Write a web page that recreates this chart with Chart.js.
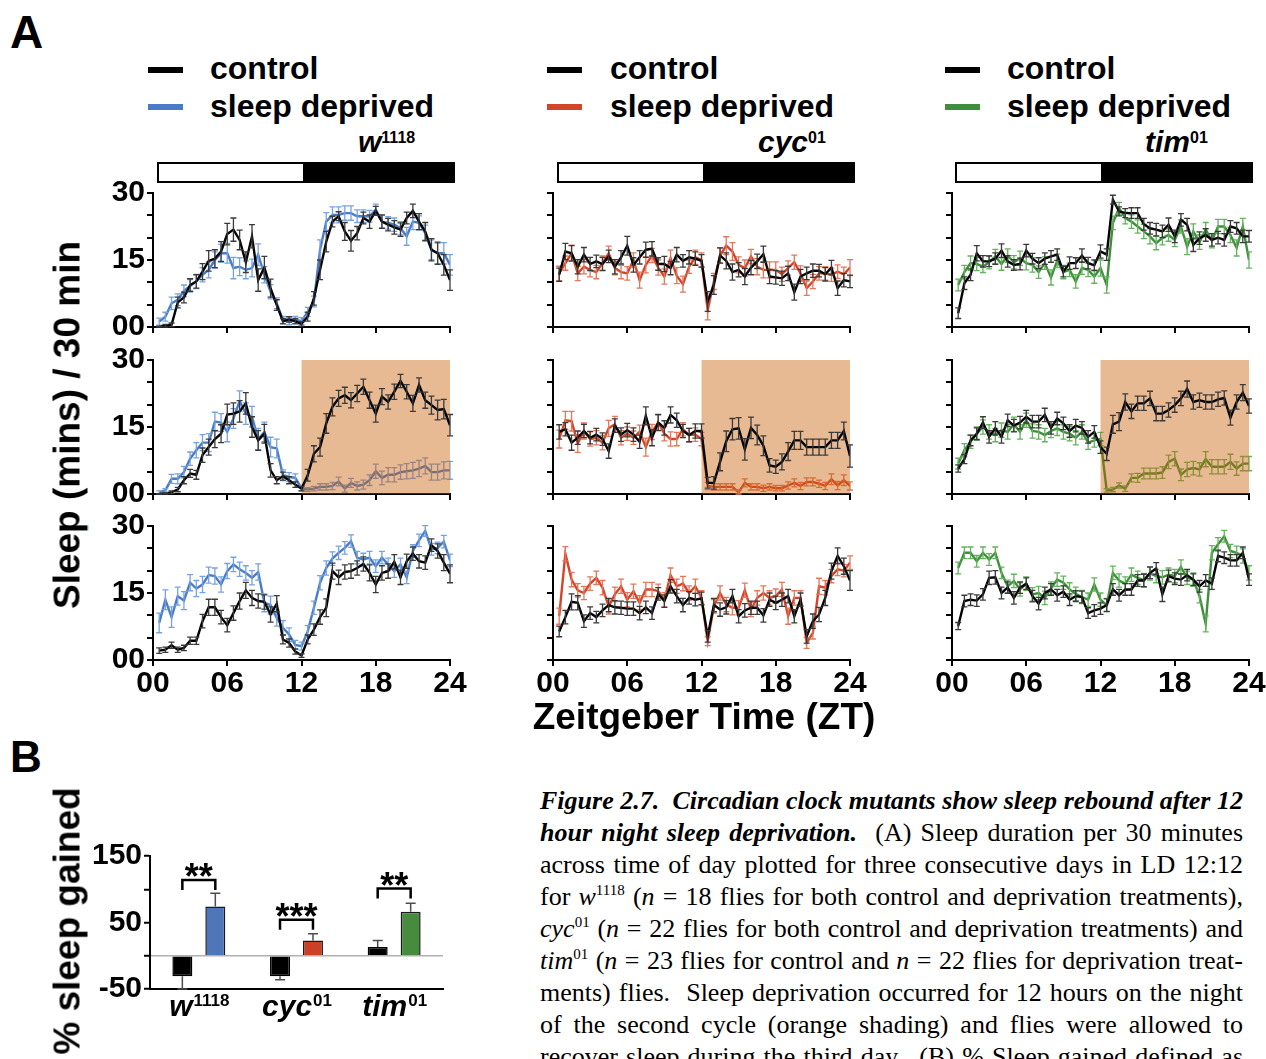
<!DOCTYPE html>
<html>
<head>
<meta charset="utf-8">
<script src="https://cdn.jsdelivr.net/npm/chart.js@4.4.0/dist/chart.umd.min.js"></script>
<style>
  body { margin: 0; background: #fff; }
  #page { position: relative; width: 1266px; height: 1059px; overflow: hidden; font-family: "Liberation Sans", Arial, sans-serif; color: #000; }
  .t { position: absolute; white-space: nowrap; line-height: 1; font-weight: bold; }
  .dash { position: absolute; width: 35px; height: 6px; }
  .ld { position: absolute; top: 162px; width: 298px; height: 21px; box-sizing: border-box; border: 2px solid #000; background: linear-gradient(to right, #fff 49%, #000 49%); }
  .gsup { font-size: 16px; position: relative; top: -9px; font-style: normal; }
  canvas { position: absolute; }
  .cap { position: absolute; left: 540px; width: 703px; font-family: "Liberation Serif", "Times New Roman", serif; font-size: 26px; line-height: 1; white-space: nowrap; text-align: justify; text-align-last: justify; }
  .csup { font-size: 15px; position: relative; top: -10px; }
</style>
</head>
<body>
<div id="page">
  <div class="t" style="left:10px;top:9px;font-size:46px;">A</div>
  <div class="t" style="left:10px;top:735px;font-size:44px;">B</div>

  <!-- legends -->
  <div class="dash" style="left:148px;top:67px;background:#000;"></div>
  <div class="dash" style="left:148px;top:104px;background:#4a7bc6;"></div>
  <div class="t" style="left:210px;top:52px;font-size:32px;">control</div>
  <div class="t" style="left:210px;top:90px;font-size:32px;">sleep deprived</div>
  <div class="t" style="left:358px;top:127px;font-size:30px;"><i>w</i><span class="gsup">1118</span></div>

  <div class="dash" style="left:547px;top:67px;background:#000;"></div>
  <div class="dash" style="left:547px;top:104px;background:#d2452b;"></div>
  <div class="t" style="left:610px;top:52px;font-size:32px;">control</div>
  <div class="t" style="left:610px;top:90px;font-size:32px;">sleep deprived</div>
  <div class="t" style="left:758px;top:127px;font-size:30px;"><i>cyc</i><span class="gsup">01</span></div>

  <div class="dash" style="left:945px;top:67px;background:#000;"></div>
  <div class="dash" style="left:945px;top:104px;background:#3f8e3b;"></div>
  <div class="t" style="left:1007px;top:52px;font-size:32px;">control</div>
  <div class="t" style="left:1007px;top:90px;font-size:32px;">sleep deprived</div>
  <div class="t" style="left:1145px;top:127px;font-size:30px;"><i>tim</i><span class="gsup">01</span></div>

  <!-- light / dark bars -->
  <div class="ld" style="left:157px;"></div>
  <div class="ld" style="left:557px;"></div>
  <div class="ld" style="left:955px;"></div>

  <!-- sleep profile panels -->
  <canvas id="w-day1" width="387" height="174" style="left:83px;top:173px;"></canvas>
  <canvas id="cyc-day1" width="387" height="174" style="left:483px;top:173px;"></canvas>
  <canvas id="tim-day1" width="387" height="174" style="left:882px;top:173px;"></canvas>
  <canvas id="w-day2" width="387" height="174" style="left:83px;top:340px;"></canvas>
  <canvas id="cyc-day2" width="387" height="174" style="left:483px;top:340px;"></canvas>
  <canvas id="tim-day2" width="387" height="174" style="left:882px;top:340px;"></canvas>
  <canvas id="w-day3" width="387" height="194" style="left:83px;top:506px;"></canvas>
  <canvas id="cyc-day3" width="387" height="194" style="left:483px;top:506px;"></canvas>
  <canvas id="tim-day3" width="387" height="194" style="left:882px;top:506px;"></canvas>

  <div class="t" style="left:67px;top:425px;font-size:37px;transform:translate(-50%,-50%) rotate(-90deg);">Sleep (mins) / 30 min</div>
  <div class="t" style="left:704px;top:698px;font-size:37px;transform:translateX(-50%);">Zeitgeber Time (ZT)</div>

  <!-- sleep gained -->
  <canvas id="sleep-gained" width="373" height="198" style="left:80px;top:836px;"></canvas>
  <div class="t" style="left:67px;top:921px;font-size:37px;transform:translate(-50%,-50%) rotate(-90deg);">% sleep gained</div>

  <!-- caption -->
  <div class="cap" style="top:788px;"><b><i>Figure 2.7.&nbsp; Circadian clock mutants show sleep rebound after 12</i></b></div>
  <div class="cap" style="top:820px;"><b><i>hour night sleep deprivation.</i></b>&nbsp; (A) Sleep duration per 30 minutes</div>
  <div class="cap" style="top:852px;">across time of day plotted for three consecutive days in LD 12:12</div>
  <div class="cap" style="top:884px;">for <i>w</i><span class="csup">1118</span> (<i>n</i> = 18 flies for both control and deprivation treatments),</div>
  <div class="cap" style="top:916px;"><i>cyc</i><span class="csup">01</span> (<i>n</i> = 22 flies for both control and deprivation treatments) and</div>
  <div class="cap" style="top:948px;"><i>tim</i><span class="csup">01</span> (<i>n</i> = 23 flies for control and <i>n</i> = 22 flies for deprivation treat-</div>
  <div class="cap" style="top:980px;">ments) flies.&nbsp; Sleep deprivation occurred for 12 hours on the night</div>
  <div class="cap" style="top:1012px;">of the second cycle (orange shading) and flies were allowed to</div>
  <div class="cap" style="top:1044px;">recover sleep during the third day.&nbsp; (B) % Sleep gained defined as</div>
</div>

<script>
// half-hour bins (ZT)
const ztBins = [
  0.5, 1, 1.5, 2, 2.5, 3, 3.5, 4, 4.5, 5, 5.5, 6,
  6.5, 7, 7.5, 8, 8.5, 9, 9.5, 10, 10.5, 11, 11.5, 12,
  12.5, 13, 13.5, 14, 14.5, 15, 15.5, 16, 16.5, 17, 17.5, 18,
  18.5, 19, 19.5, 20, 20.5, 21, 21.5, 22, 22.5, 23, 23.5, 24,
];
const sdWindow = [12, 24];

// ---- w1118 ----
const wCtrl1 = [
  0, 0.3, 0.5, 5.5, 6.6, 9.4, 10.2, 12.4, 14.8, 15.3, 16.9, 20.8,
  21.8, 19.5, 14.5, 20.3, 10.5, 13.3, 8.7, 4.9, 1.3, 1.7, 1.3, 0.7,
  2.3, 6.4, 12.8, 19.1, 23.6, 24.8, 21.4, 19.3, 21, 24.4, 23.6, 26,
  23.6, 22.9, 22.3, 21.8, 24.4, 26, 23.6, 21.4, 17.3, 16.5, 13.9, 10.5,
];
const wCtrl1Err = [
  0.2, 0.3, 0.4, 1.2, 1.2, 1.4, 1.5, 1.8, 2.3, 2, 2.2, 2.4,
  2.6, 2.2, 2.3, 2.6, 2.5, 2.5, 2, 1.2, 0.6, 0.6, 0.6, 0.5,
  1, 1.5, 2.2, 2.3, 1.2, 1, 2, 2.3, 1.5, 1.3, 1.5, 1,
  1.5, 1.4, 1.5, 1.5, 1.3, 1.5, 1.8, 2, 2.5, 2.5, 2.3, 2.3,
];
const wSd1 = [
  1.2, 2.3, 5.3, 6.1, 8.1, 9.2, 10.2, 11.7, 12.8, 15, 16.5, 16.5,
  13.2, 13.5, 12.8, 13.2, 16.2, 11.7, 7.9, 5.3, 1.6, 1.2, 1.6, 1.3,
  3.4, 5.7, 17.3, 23.6, 25.1, 25.1, 25.5, 25.5, 24.8, 24.8, 24.8, 26.3,
  23.6, 23.3, 22.9, 22.1, 20.3, 23.6, 23.3, 21, 17.3, 16.5, 16.5, 13.9,
];
const wSd1Err = [
  0.8, 1, 1.4, 1.3, 1.3, 1.4, 1.6, 1.6, 1.8, 1.8, 2, 2.2,
  2.4, 2, 2, 2, 2.4, 1.8, 1.6, 1.2, 0.8, 0.7, 0.8, 0.8,
  1, 1.2, 2.2, 2, 1.8, 1.8, 1.6, 1.6, 1.4, 1.4, 1.3, 1.2,
  1.4, 1.4, 1.5, 1.5, 2, 1.8, 1.6, 1.8, 2.2, 2.3, 2.4, 2.3,
];
const wCtrl2 = [
  0, 0.1, 0.4, 1, 3.1, 4.6, 4.3, 8.7, 10.5, 12.3, 13.5, 17.8,
  18, 18.5, 20.3, 15, 12, 13.5, 5.3, 3.1, 4, 3.1, 2.1, 1.2,
  4.2, 9, 10.5, 15.8, 19.5, 21.4, 22.1, 21, 22.5, 24, 21, 18,
  21.8, 20.6, 22.9, 25.3, 22.9, 20.3, 24.4, 21, 19.9, 18.8, 19, 15.4,
];
const wCtrl2Err = [
  0.1, 0.2, 0.3, 0.5, 0.8, 0.9, 1, 1.6, 1.8, 1.9, 2, 2.3,
  2.4, 2.4, 2.4, 2.3, 2.2, 2.1, 1.5, 0.8, 0.9, 0.8, 0.6, 0.5,
  1.3, 1.8, 2, 2.2, 2, 1.8, 1.8, 1.7, 1.8, 1.7, 1.8, 1.9,
  1.8, 1.6, 1.7, 1.5, 1.6, 1.8, 1.6, 1.8, 2, 2.2, 2.2, 2.4,
];
const wSd2 = [
  0.4, 0.8, 3.4, 3.4, 4.9, 7.9, 9.8, 11.5, 11.5, 16.2, 16, 13.9,
  16.9, 20.8, 18, 17.3, 12.3, 13.9, 10.5, 10.2, 4.2, 3.8, 3.6, 1.3,
  1, 1.2, 1.6, 1.6, 1.8, 2.8, 1.2, 2.5, 1.8, 2.1, 3.1, 5.1,
  3.6, 4.3, 4.3, 4.9, 5.1, 5.3, 5.7, 6.3, 4.9, 4.9, 5.3, 5.3,
];
const wSd2Err = [
  0.3, 0.4, 1, 1.1, 1.3, 1.5, 1.7, 1.8, 2, 2.1, 2, 2.2,
  2.2, 2.3, 2.4, 2.3, 2.4, 2.2, 2.2, 2.1, 1.2, 1, 0.9, 0.6,
  0.4, 0.5, 0.7, 0.7, 0.8, 1, 0.8, 1, 0.9, 1, 1.2, 1.6,
  1.5, 1.6, 1.6, 1.6, 1.7, 1.8, 1.8, 1.8, 1.8, 1.8, 1.9, 2,
];
const wCtrl3 = [
  2.1, 2.3, 3.3, 2.3, 2.7, 4.3, 4.3, 8.7, 11.8, 11.8, 9.6, 7.8,
  10.5, 13.2, 15.6, 13.9, 13.2, 13, 10.2, 12.6, 4.6, 3.8, 1.9, 1,
  4.6, 6.8, 9.6, 11.7, 19.9, 18.5, 19.7, 19.9, 20.6, 21.5, 19.5, 16.9,
  19.5, 19.9, 22, 18.5, 22.1, 23.8, 22.1, 21.8, 25.7, 24.4, 21.8, 19.3,
];
const wCtrl3Err = [
  0.6, 0.6, 0.7, 0.6, 0.6, 0.8, 0.8, 1.5, 1.8, 1.8, 1.5, 1.5,
  1.6, 1.8, 1.8, 1.7, 1.6, 1.6, 1.7, 1.8, 1, 0.9, 0.6, 0.4,
  1, 1.3, 1.6, 2, 1.8, 1.6, 1.6, 1.6, 1.6, 1.6, 1.8, 1.8,
  1.6, 1.6, 1.6, 1.6, 1.6, 1.5, 1.5, 1.5, 1.4, 1.6, 1.8, 2,
];
const wSd3 = [
  8.3, 13.5, 9.6, 14.3, 13.3, 17.3, 16, 16.9, 19, 18.8, 16.9, 19.9,
  21.4, 20.3, 19.5, 18.4, 19.7, 12.8, 12.3, 9.4, 7.2, 5.7, 3.4, 3.1,
  6.4, 11.7, 17.3, 20.6, 22.7, 24, 25.1, 26.6, 22.9, 22.5, 22.9, 21,
  22.9, 21.4, 19.9, 21.4, 18.5, 24.4, 26.8, 28.9, 24.8, 25.1, 26.5, 22.3,
];
const wSd3Err = [
  2.2, 2.2, 2.3, 2, 2, 1.8, 1.8, 1.8, 1.8, 1.8, 1.7, 1.7,
  1.6, 1.6, 1.6, 1.6, 1.8, 2, 2, 1.8, 1.6, 1.5, 1, 0.9,
  1.3, 1.5, 1.6, 1.6, 1.5, 1.5, 1.4, 1.4, 1.4, 1.4, 1.4, 1.4,
  1.4, 1.4, 1.4, 1.4, 1.4, 1.4, 1.4, 1.2, 1.3, 1.3, 1.4, 1.4,
];

// ---- cyc01 ----
const cycCtrl1 = [
  11.7, 16.9, 16.5, 13.5, 16.2, 14.1, 14.7, 14.1, 15.8, 13.5, 15.6, 18.2,
  13.9, 15.6, 17.3, 17.5, 14.1, 14.1, 13.2, 16.2, 14.8, 15.6, 15.3, 14.8,
  5.7, 9.4, 16, 14.8, 12.3, 12.8, 11.3, 13.3, 14.7, 16.3, 11.3, 11.1,
  10.9, 12, 7.8, 11.3, 12, 12.6, 12.6, 11.8, 13.3, 8.7, 10.5, 10.2,
];
const cycCtrl1Err = [
  1.5, 1.8, 1.7, 1.6, 1.6, 1.5, 1.4, 1.5, 1.4, 1.6, 1.5, 2.1,
  1.6, 1.5, 1.7, 1.6, 1.4, 1.7, 1.5, 1.6, 1.4, 1.5, 1.5, 1.4,
  2.2, 2.1, 1.7, 1.8, 1.8, 1.6, 1.8, 1.6, 1.6, 1.8, 1.6, 1.5,
  1.6, 1.6, 1.8, 1.6, 1.4, 1.5, 1.4, 1.5, 1.6, 1.6, 1.5, 1.4,
];
const cycSd1 = [
  12, 14.3, 16.5, 12, 13.5, 12.8, 12.3, 14.3, 16.5, 13.2, 12.3, 12,
  15, 10.5, 13.9, 16, 13.3, 11.3, 15.4, 11.5, 9.6, 13.5, 15.6, 15,
  3.8, 10.2, 16, 18.2, 16.9, 13.9, 13.2, 15.8, 13.5, 12.8, 12.8, 12.8,
  11.8, 13.2, 14.5, 12, 8.7, 10.2, 12, 12, 11.7, 12.4, 11.8, 13.3,
];
const cycSd1Err = [
  1.6, 1.6, 1.8, 1.6, 1.6, 1.6, 1.5, 1.6, 1.6, 1.5, 1.5, 1.5,
  1.6, 1.8, 1.8, 1.6, 1.7, 1.7, 1.8, 1.8, 1.8, 1.5, 1.6, 1.6,
  2.2, 1.8, 1.7, 2, 2, 1.8, 1.8, 1.6, 1.8, 1.8, 1.8, 1.8,
  1.6, 1.6, 1.6, 1.7, 1.6, 1.6, 1.5, 1.5, 1.5, 1.5, 1.6, 1.8,
];
const cycCtrl2 = [
  13.9, 14.5, 11.5, 12.6, 14.1, 12.6, 13.3, 12.3, 9.6, 15.3, 13.3, 14.3,
  13.3, 11.7, 17.5, 12.6, 16, 14.8, 17.7, 16.5, 14.1, 13.2, 14.1, 14.1,
  2.5, 2.5, 7.2, 11.8, 14.5, 14.7, 10, 14.8, 13.2, 10.8, 6.4, 6.1,
  7.2, 9.5, 12, 12, 10.5, 10.5, 10.5, 10.5, 12, 12, 14.1, 8.5,
];
const cycCtrl2Err = [
  1.6, 1.5, 1.7, 1.5, 1.5, 1.4, 1.4, 1.4, 1.6, 1.5, 1.5, 1.5,
  1.5, 1.5, 2, 1.8, 1.8, 1.6, 1.8, 1.6, 1.5, 1.5, 1.6, 1.6,
  1.2, 1.4, 2, 2.3, 2.4, 2.4, 2.4, 2.4, 2.2, 2.2, 1.5, 1.5,
  1.8, 2, 2, 2, 1.8, 1.8, 1.8, 1.8, 1.8, 1.8, 2, 2.5,
];
const cycSd2 = [
  12.3, 16.5, 16.3, 11.3, 14.1, 12.3, 12.6, 11.5, 14.7, 15.6, 12.6, 13.5,
  12.6, 13.9, 10.5, 13.9, 16, 13.5, 12.3, 12.3, 14.5, 13.2, 13.3, 12.3,
  1.8, 1.6, 1.6, 1.6, 1.6, 0.4, 2.5, 1.6, 1.6, 1.3, 1.6, 1.3,
  1.3, 1.9, 2.5, 1.8, 2.7, 2.7, 2.3, 1.8, 3.3, 1.9, 3.1, 1.8,
];
const cycSd2Err = [
  2, 2, 2.2, 2, 1.8, 1.6, 1.6, 1.6, 1.8, 1.8, 1.6, 1.5,
  1.5, 1.5, 2, 1.7, 1.7, 1.6, 1.6, 1.5, 1.5, 1.5, 1.5, 1.5,
  0.8, 0.7, 0.7, 0.7, 0.7, 0.5, 0.9, 0.7, 0.7, 0.7, 0.7, 0.6,
  0.6, 0.8, 0.9, 0.8, 0.9, 0.9, 0.8, 0.8, 1.2, 0.9, 1.2, 0.9,
];
const cycCtrl3 = [
  6.4, 9.6, 13, 12.8, 8.7, 10.5, 9.6, 11.1, 12.3, 11.8, 11.7, 11.5,
  11.5, 10.5, 11.8, 10.5, 14.8, 13.2, 16.5, 14.3, 12.3, 13.9, 13.5, 13.8,
  5.3, 12.3, 11.3, 11.8, 14.3, 9.8, 11.1, 11.7, 11.7, 10, 13.5, 12.8,
  13.5, 14.3, 9.8, 13.5, 5.3, 8.7, 10.2, 13.9, 19.9, 23.3, 21, 17.8,
];
const cycCtrl3Err = [
  1.2, 1.5, 1.8, 1.6, 1.4, 1.4, 1.3, 1.4, 1.5, 1.5, 1.5, 1.5,
  1.5, 1.5, 1.4, 1.4, 1.4, 1.4, 1.5, 1.5, 1.5, 1.4, 1.4, 1.4,
  1.3, 1.5, 1.5, 1.5, 1.5, 1.5, 1.5, 1.5, 1.5, 1.5, 1.5, 1.5,
  1.5, 1.5, 1.5, 1.5, 1.5, 1.6, 1.6, 1.7, 1.8, 1.8, 1.8, 2.2,
];
const cycSd3 = [
  9.8, 23.8, 18, 15.6, 15, 17.1, 18.4, 16.2, 12, 14.7, 16.5, 13.5,
  15.4, 12.8, 15.8, 15.8, 15.4, 13.5, 19, 16.5, 17.1, 15, 16.5, 13.9,
  4.2, 12, 15, 12.4, 11.7, 11.7, 15.6, 11.3, 13.9, 15, 13.9, 14.3,
  15.8, 9.8, 13.9, 13.9, 3.8, 6.1, 16.5, 16.2, 18.8, 20.3, 20, 21.8,
];
const cycSd3Err = [
  1.8, 1.6, 1.6, 1.5, 1.5, 1.5, 1.5, 1.6, 1.7, 1.6, 1.6, 1.6,
  1.6, 1.6, 1.6, 1.6, 1.6, 1.6, 1.6, 1.6, 1.6, 1.6, 1.6, 1.6,
  1, 1.5, 1.6, 1.6, 1.6, 1.6, 1.6, 1.6, 1.6, 1.6, 1.6, 1.6,
  1.6, 1.8, 1.6, 1.6, 1.2, 1.4, 1.8, 1.6, 1.5, 1.4, 1.4, 1.5,
];

// ---- tim01 ----
const timCtrl1 = [
  3.1, 9.8, 11.7, 16.5, 14.7, 14.7, 15.3, 17.1, 14.7, 13.9, 14.1, 17.1,
  15.3, 14.3, 15.3, 15.8, 16.2, 12.4, 14.3, 14.3, 16, 14.3, 13.8, 16.9,
  16.2, 28.5, 25.9, 25.5, 25.5, 25.5, 23, 22.1, 21.8, 21.4, 22.9, 20.3,
  24, 22.9, 18.4, 19.9, 20.6, 19.5, 20, 19.5, 22.5, 22.1, 20.3, 20.3,
];
const timCtrl1Err = [
  1.2, 1.4, 1.3, 1.7, 1.3, 1.2, 1.3, 1.5, 1.3, 1.2, 1.3, 1.4,
  1.2, 1.2, 1.3, 1.3, 1.3, 1.2, 1.4, 1.2, 1.5, 1.3, 1.2, 1.5,
  1.3, 1, 1, 1, 1.2, 1.2, 1.3, 1.3, 1.4, 1.4, 1.5, 1.4,
  1.4, 1.4, 1.5, 1.4, 1.4, 1.4, 1.4, 1.4, 1.3, 1.3, 1.4, 1.3,
];
const timSd1 = [
  9.4, 12.3, 14.3, 14.1, 13.5, 14.5, 15.8, 14.1, 16, 14.5, 15.4, 14.3,
  13.9, 12.3, 14.3, 11.1, 14.8, 12.3, 12.8, 10.2, 13.2, 12.8, 11.3, 13.2,
  9.4, 23.3, 26.6, 24.4, 23.6, 22.5, 21.4, 20.3, 18.8, 19.9, 20.6, 19.5,
  22.5, 18, 21.4, 19, 21.8, 19.3, 22.5, 22.5, 20.6, 17.7, 22.5, 15,
];
const timSd1Err = [
  1.3, 1.5, 1.6, 1.5, 1.3, 1.5, 1.6, 1.4, 1.5, 1.5, 1.6, 1.5,
  1.6, 1.4, 1.4, 1.7, 1.5, 1.5, 1.5, 1.5, 1.4, 1.5, 1.5, 1.8,
  1.8, 1.5, 1.3, 1.3, 1.5, 1.5, 1.6, 1.7, 1.5, 1.5, 1.4, 1.5,
  1.5, 1.8, 1.7, 1.6, 1.6, 1.6, 1.6, 1.6, 1.7, 1.8, 1.8, 1.8,
];
const timCtrl2 = [
  5.7, 7.8, 12, 13.5, 16, 12.8, 14.7, 12.8, 16.5, 15.3, 16, 17.3,
  16.2, 16.2, 17.7, 14.8, 16.9, 15.8, 14.1, 15.3, 14.8, 12.8, 13.9, 10.5,
  9, 15.6, 16.2, 20.6, 18.5, 20.3, 20.3, 21.4, 18, 18, 18.8, 19.9,
  21.4, 23.5, 20.6, 21, 20.6, 20.6, 21.2, 21.5, 17.1, 20.6, 22.7, 19.7,
];
const timCtrl2Err = [
  0.8, 1, 1.2, 1.3, 1.3, 1.4, 1.5, 1.4, 1.4, 1.4, 1.4, 1.4,
  1.4, 1.4, 1.5, 1.4, 1.4, 1.4, 1.4, 1.4, 1.4, 1.4, 1.4, 1.4,
  1.5, 2, 2, 1.8, 1.6, 1.6, 1.6, 1.6, 1.6, 1.6, 1.6, 1.6,
  1.6, 1.8, 1.6, 1.6, 1.6, 1.6, 1.6, 1.6, 1.7, 1.6, 1.8, 1.6,
];
const timSd2 = [
  6.8, 9.8, 11.7, 13.5, 15, 13.9, 13.2, 14.3, 13.9, 15.6, 13.9, 16.5,
  14.1, 13.9, 13.2, 14.1, 14.7, 13.9, 13.5, 12.6, 13.9, 11.5, 12, 12.3,
  0.8, 1, 1.9, 1.2, 3.6, 3.6, 4.6, 4.6, 4.6, 4.8, 7.2, 7.9,
  4.3, 5.5, 5.8, 5.5, 7.8, 6.1, 6.1, 6.1, 7.2, 5.7, 6.8, 6.8,
];
const timSd2Err = [
  1.2, 1.5, 1.5, 1.5, 1.6, 1.6, 1.5, 1.6, 1.6, 1.6, 1.6, 1.6,
  1.6, 1.6, 1.5, 1.5, 1.6, 1.6, 1.6, 1.6, 1.6, 1.5, 1.5, 1.5,
  0.4, 0.5, 0.6, 0.6, 0.9, 1, 1.2, 1.2, 1.2, 1.3, 1.5, 1.6,
  1.3, 1.6, 1.5, 1.5, 1.7, 1.6, 1.6, 1.6, 1.7, 1.5, 1.6, 1.6,
];
const timCtrl3 = [
  7.6, 13.2, 13.5, 13.3, 14.7, 18.4, 18.5, 15, 16.2, 13.9, 16.2, 17.1,
  14.3, 12.6, 15, 15.8, 14.5, 15.3, 13.5, 14.3, 14.1, 10.5, 11.1, 11.5,
  12.3, 15.8, 14.5, 15.8, 15.8, 17.8, 17.8, 19.5, 20.5, 14.7, 18.8, 18.2,
  18, 19, 18, 16.5, 17.8, 17.1, 23.3, 22.9, 22.3, 22.3, 24, 18,
];
const timCtrl3Err = [
  0.8, 1.3, 1.3, 1.3, 1.3, 1.5, 1.5, 1.3, 1.3, 1.4, 1.3, 1.3,
  1.3, 1.4, 1.3, 1.3, 1.3, 1.3, 1.3, 1.2, 1.3, 1.2, 1.3, 1.3,
  1.4, 1.3, 1.3, 1.3, 1.3, 1.3, 1.4, 1.3, 1.3, 1.6, 1.3, 1.3,
  1.3, 1.3, 1.3, 1.3, 1.3, 1.3, 1.3, 1.3, 1.3, 1.3, 1.3, 1.3,
];
const timSd3 = [
  20.6, 24, 24, 22.1, 24, 22.5, 24, 19.5, 16.5, 17.7, 15.8, 17.1,
  14.7, 15, 13.9, 16, 18, 17.3, 15.8, 14.8, 14.1, 13.5, 16.9, 13.5,
  12.3, 19.5, 17.8, 17.1, 19.1, 18.4, 17.9, 19.4, 18.8, 18.5, 19.1, 18.8,
  20.8, 18.4, 18, 14.3, 8.1, 24, 25.9, 27.7, 24.4, 24, 23.3, 19.5,
];
const timSd3Err = [
  1.3, 1.3, 1.3, 1.3, 1.3, 1.3, 1.3, 1.3, 1.4, 1.5, 1.5, 1.5,
  1.5, 1.5, 1.5, 1.5, 1.5, 1.5, 1.5, 1.5, 1.5, 1.5, 1.5, 1.5,
  1.5, 1.5, 1.5, 1.5, 1.5, 1.5, 1.5, 1.5, 1.5, 1.5, 1.5, 1.5,
  1.6, 1.5, 1.5, 1.5, 1.8, 1.6, 1.5, 1.3, 1.5, 1.5, 1.6, 1.6,
];

// ---- % sleep gained ----
const genotypeBase = ["w", "cyc", "tim"];
const genotypeSup = ["1118", "01", "01"];
const controlGained = [-31, -31, 13];
const controlGainedErr = [19, 5, 10];
const deprivedGained = [74, 23, 66];
const deprivedGainedErr = [20, 10, 13];
const gainedTickLabels = [150, 50, -50];
const sigLabels = ["**", "***", "**"];
const bracketLevels = [114, 54, 101];

Chart.defaults.font.family = '"Liberation Sans", Arial, sans-serif';
Chart.defaults.color = "#000";

// error bars for the line panels
const errorBars = {
  id: "errorBars",
  afterDatasetDraw(chart, args) {
    const ds = chart.data.datasets[args.index];
    if (!ds.errors) return;
    const ctx = chart.ctx;
    const yScale = chart.scales.y;
    ctx.save();
    ctx.strokeStyle = ds.errorColor;
    ctx.lineWidth = 1.3;
    args.meta.data.forEach((pt, i) => {
      const v = ds.data[i].y;
      const e = ds.errors[i];
      const top = yScale.getPixelForValue(v + e);
      const bot = yScale.getPixelForValue(Math.max(0, v - e));
      ctx.beginPath();
      ctx.moveTo(pt.x, top);
      ctx.lineTo(pt.x, bot);
      ctx.moveTo(pt.x - 3, top);
      ctx.lineTo(pt.x + 3, top);
      ctx.moveTo(pt.x - 3, bot);
      ctx.lineTo(pt.x + 3, bot);
      ctx.stroke();
    });
    ctx.restore();
  },
};

// orange shading for the deprivation night, laid over the deprived trace
const deprivationShade = {
  id: "deprivationShade",
  afterDatasetDraw(chart, args, opts) {
    if (opts.from === undefined) return;
    if (chart.data.datasets[args.index].label !== "sleep deprived") return;
    const { ctx, scales: { x, y } } = chart;
    const x0 = x.getPixelForValue(opts.from);
    const x1 = x.getPixelForValue(opts.to);
    const y0 = y.getPixelForValue(y.max);
    const y1 = y.getPixelForValue(y.min);
    ctx.save();
    ctx.fillStyle = "rgba(200, 90, 0, 0.42)";
    ctx.fillRect(x0, y0, x1 - x0, y1 - y0);
    ctx.restore();
  },
};

const makeSleepPanel = (id, ctrl, ctrlErr, sd, sdErr, color, errColor, opts) => {
  const toPoints = (vals) => ztBins.map((t, i) => ({ x: t, y: vals[i] }));
  const tickFont = { size: 30, weight: "bold" };
  return new Chart(document.getElementById(id), {
    type: "line",
    data: {
      datasets: [
        {
          label: "control",
          data: toPoints(ctrl),
          errors: ctrlErr,
          errorColor: "#3a3a3a",
          borderColor: "#000",
          borderWidth: 2.4,
          pointRadius: 0,
          order: 0,
        },
        {
          label: "sleep deprived",
          data: toPoints(sd),
          errors: sdErr,
          errorColor: errColor,
          borderColor: color,
          borderWidth: 2.4,
          pointRadius: 0,
          order: 1,
        },
      ],
    },
    options: {
      responsive: false,
      animation: false,
      layout: { autoPadding: false, padding: { top: 20, right: 20, left: 0, bottom: 0 } },
      plugins: {
        legend: { display: false },
        tooltip: { enabled: false },
        deprivationShade: opts.shade ? { from: sdWindow[0], to: sdWindow[1] } : {},
      },
      scales: {
        x: {
          type: "linear",
          min: 0,
          max: 24,
          ticks: {
            count: 5,
            autoSkip: false,
            maxRotation: 0,
            padding: 0,
            font: tickFont,
            callback: (v) => (opts.xLabels ? String(v).padStart(2, "0") : ""),
          },
          grid: { drawOnChartArea: false, tickLength: 6, color: "#000", lineWidth: 2 },
          border: { color: "#000", width: 2 },
          afterFit: (s) => { s.height = opts.xLabels ? 40 : 20; },
        },
        y: {
          min: 0,
          max: 30,
          ticks: {
            count: 7,
            autoSkip: false,
            padding: 2,
            font: tickFont,
            callback: (v) => (opts.yLabels && v % 15 === 0 ? String(v).padStart(2, "0") : ""),
          },
          grid: { drawOnChartArea: false, tickLength: 6, color: "#000", lineWidth: 2 },
          border: { color: "#000", width: 2 },
          afterFit: (s) => { s.width = 70; },
        },
      },
    },
    plugins: [errorBars, deprivationShade],
  });
};

// error bars for the gained chart (one side only)
const barErrorBars = {
  id: "barErrorBars",
  afterDatasetsDraw(chart) {
    const { ctx, scales: { y } } = chart;
    ctx.save();
    ctx.strokeStyle = "#4d4d4d";
    ctx.lineWidth = 1.5;
    chart.data.datasets.forEach((ds, di) => {
      chart.getDatasetMeta(di).data.forEach((bar, i) => {
        const v = ds.data[i];
        const dir = v < 0 ? -1 : 1;
        const end = y.getPixelForValue(v + dir * ds.errors[i]);
        ctx.beginPath();
        ctx.moveTo(bar.x, bar.y);
        ctx.lineTo(bar.x, end);
        ctx.moveTo(bar.x - 5, end);
        ctx.lineTo(bar.x + 5, end);
        ctx.stroke();
      });
    });
    ctx.restore();
  },
};

const sigBrackets = {
  id: "sigBrackets",
  afterDraw(chart) {
    const { ctx, scales: { y } } = chart;
    const m0 = chart.getDatasetMeta(0).data;
    const m1 = chart.getDatasetMeta(1).data;
    ctx.save();
    ctx.strokeStyle = "#000";
    ctx.fillStyle = "#000";
    ctx.lineWidth = 2.5;
    ctx.font = 'bold 36px "Liberation Sans"';
    ctx.textAlign = "center";
    ctx.textBaseline = "alphabetic";
    sigLabels.forEach((lab, i) => {
      const top = y.getPixelForValue(bracketLevels[i]);
      const x0 = m0[i].x;
      const x1 = m1[i].x;
      ctx.beginPath();
      ctx.moveTo(x0, top + 10);
      ctx.lineTo(x0, top);
      ctx.lineTo(x1, top);
      ctx.lineTo(x1, top + 10);
      ctx.stroke();
      ctx.fillText(lab, (x0 + x1) / 2, top + 9);
    });
    ctx.restore();
  },
};

const genotypeLabels = {
  id: "genotypeLabels",
  afterDraw(chart) {
    const { ctx, chartArea, scales: { x } } = chart;
    const baseY = chartArea.bottom + 27;
    ctx.save();
    ctx.fillStyle = "#000";
    ctx.textAlign = "left";
    ctx.textBaseline = "alphabetic";
    genotypeBase.forEach((base, i) => {
      ctx.font = 'italic bold 30px "Liberation Sans"';
      const bw = ctx.measureText(base).width;
      ctx.font = 'bold 17px "Liberation Sans"';
      const sw = ctx.measureText(genotypeSup[i]).width;
      const left = x.getPixelForValue(i) - (bw + sw) / 2;
      ctx.font = 'italic bold 30px "Liberation Sans"';
      ctx.fillText(base, left, baseY);
      ctx.font = 'bold 17px "Liberation Sans"';
      ctx.fillText(genotypeSup[i], left + bw + 1, baseY - 10);
    });
    ctx.restore();
  },
};

const setupSleepGainedChart = () => {
  new Chart(document.getElementById("sleep-gained"), {
    type: "bar",
    data: {
      labels: genotypeBase,
      datasets: [
        {
          label: "control",
          data: controlGained,
          errors: controlGainedErr,
          backgroundColor: "#000",
          borderColor: "#000",
          borderWidth: 1.5,
        },
        {
          label: "sleep deprived",
          data: deprivedGained,
          errors: deprivedGainedErr,
          backgroundColor: ["#4d77b8", "#cc4125", "#468b3e"],
          borderColor: "#1a1a1a",
          borderWidth: 1.5,
        },
      ],
    },
    options: {
      responsive: false,
      animation: false,
      layout: { autoPadding: false, padding: { top: 20, right: 10, left: 0, bottom: 0 } },
      datasets: { bar: { categoryPercentage: 0.675, barPercentage: 0.606 } },
      plugins: { legend: { display: false }, tooltip: { enabled: false } },
      scales: {
        x: {
          ticks: { display: false },
          grid: { display: false },
          border: { color: "#000", width: 2 },
          afterFit: (s) => { s.height = 45; },
        },
        y: {
          min: -50,
          max: 150,
          ticks: {
            count: 5,
            autoSkip: false,
            padding: 2,
            font: { size: 30, weight: "bold" },
            callback: (v) => (gainedTickLabels.includes(v) ? String(v) : ""),
          },
          grid: {
            color: (c) => (c.tick && c.tick.value === 0 ? "#b0b0b0" : "rgba(0,0,0,0)"),
            tickColor: "#000",
            tickLength: 6,
            tickWidth: 2,
            lineWidth: 1.5,
          },
          border: { color: "#000", width: 2 },
          afterFit: (s) => { s.width = 70; },
        },
      },
    },
    plugins: [barErrorBars, sigBrackets, genotypeLabels],
  });
};

window.addEventListener("load", () => {
  makeSleepPanel("w-day1", wCtrl1, wCtrl1Err, wSd1, wSd1Err, "#4a7bc6", "#76a3e0", { yLabels: true });
  makeSleepPanel("cyc-day1", cycCtrl1, cycCtrl1Err, cycSd1, cycSd1Err, "#d2452b", "#e2775a", {});
  makeSleepPanel("tim-day1", timCtrl1, timCtrl1Err, timSd1, timSd1Err, "#3f8e3b", "#63b35c", {});

  makeSleepPanel("w-day2", wCtrl2, wCtrl2Err, wSd2, wSd2Err, "#4a7bc6", "#76a3e0", { yLabels: true, shade: true });
  makeSleepPanel("cyc-day2", cycCtrl2, cycCtrl2Err, cycSd2, cycSd2Err, "#d2452b", "#e2775a", { shade: true });
  makeSleepPanel("tim-day2", timCtrl2, timCtrl2Err, timSd2, timSd2Err, "#3f8e3b", "#63b35c", { shade: true });

  makeSleepPanel("w-day3", wCtrl3, wCtrl3Err, wSd3, wSd3Err, "#4a7bc6", "#76a3e0", { yLabels: true, xLabels: true });
  makeSleepPanel("cyc-day3", cycCtrl3, cycCtrl3Err, cycSd3, cycSd3Err, "#d2452b", "#e2775a", { xLabels: true });
  makeSleepPanel("tim-day3", timCtrl3, timCtrl3Err, timSd3, timSd3Err, "#3f8e3b", "#63b35c", { xLabels: true });

  setupSleepGainedChart();
});
</script>
</body>
</html>
